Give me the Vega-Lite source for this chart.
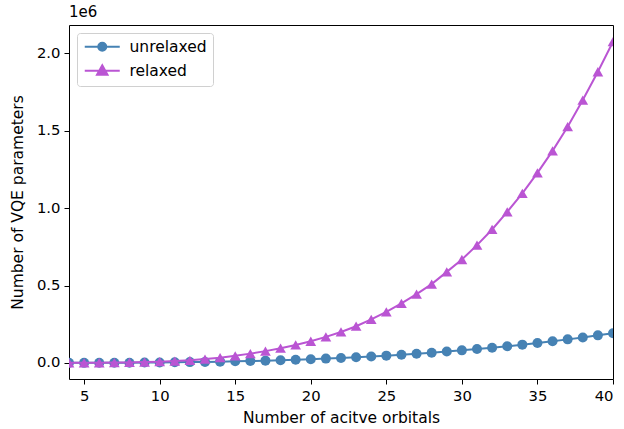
{
  "$schema": "https://vega.github.io/schema/vega-lite/v6.json",
  "width": 544,
  "height": 354,
  "autosize": {"type": "none"},
  "padding": {"left": 69, "top": 25, "right": 11, "bottom": 50},
  "background": "white",
  "title": {"text": "1e6", "anchor": "start", "frame": "group", "fontWeight": "normal", "fontSize": 15, "font": "DejaVu Sans", "offset": 5, "color": "black"},
  "config": {
    "font": "DejaVu Sans",
    "view": {"stroke": "black", "strokeWidth": 1},
    "axis": {"grid": false, "domain": false, "tickColor": "black", "tickSize": 5, "tickWidth": 1, "labelColor": "black", "labelFontSize": 14.8, "titleFontSize": 15.5, "titleFontWeight": "normal", "titleColor": "black", "labelPadding": 4, "labelFont": "DejaVu Sans", "titleFont": "DejaVu Sans"}
  },
  "data": {"values": [
    {"n":4,"series":"unrelaxed","value":190},{"n":5,"series":"unrelaxed","value":380},{"n":6,"series":"unrelaxed","value":650},{"n":7,"series":"unrelaxed","value":1030},{"n":8,"series":"unrelaxed","value":1540},{"n":9,"series":"unrelaxed","value":2190},{"n":10,"series":"unrelaxed","value":3000},{"n":11,"series":"unrelaxed","value":4000},{"n":12,"series":"unrelaxed","value":5200},{"n":13,"series":"unrelaxed","value":6600},{"n":14,"series":"unrelaxed","value":8200},{"n":15,"series":"unrelaxed","value":10100},{"n":16,"series":"unrelaxed","value":12300},{"n":17,"series":"unrelaxed","value":14700},{"n":18,"series":"unrelaxed","value":17500},{"n":19,"series":"unrelaxed","value":20600},{"n":20,"series":"unrelaxed","value":24000},{"n":21,"series":"unrelaxed","value":27800},{"n":22,"series":"unrelaxed","value":31900},{"n":23,"series":"unrelaxed","value":36500},{"n":24,"series":"unrelaxed","value":41500},{"n":25,"series":"unrelaxed","value":47000},{"n":26,"series":"unrelaxed","value":52700},{"n":27,"series":"unrelaxed","value":59000},{"n":28,"series":"unrelaxed","value":65800},{"n":29,"series":"unrelaxed","value":73200},{"n":30,"series":"unrelaxed","value":81000},{"n":31,"series":"unrelaxed","value":89400},{"n":32,"series":"unrelaxed","value":98300},{"n":33,"series":"unrelaxed","value":107800},{"n":34,"series":"unrelaxed","value":117900},{"n":35,"series":"unrelaxed","value":128600},{"n":36,"series":"unrelaxed","value":140000},{"n":37,"series":"unrelaxed","value":152000},{"n":38,"series":"unrelaxed","value":164600},{"n":39,"series":"unrelaxed","value":178000},{"n":40,"series":"unrelaxed","value":192000},
    {"n":4,"series":"relaxed","value":200},{"n":5,"series":"relaxed","value":500},{"n":6,"series":"relaxed","value":1100},{"n":7,"series":"relaxed","value":2000},{"n":8,"series":"relaxed","value":3400},{"n":9,"series":"relaxed","value":5300},{"n":10,"series":"relaxed","value":8000},{"n":11,"series":"relaxed","value":11500},{"n":12,"series":"relaxed","value":17000},{"n":13,"series":"relaxed","value":25000},{"n":14,"series":"relaxed","value":34000},{"n":15,"series":"relaxed","value":46000},{"n":16,"series":"relaxed","value":60000},{"n":17,"series":"relaxed","value":76000},{"n":18,"series":"relaxed","value":95000},{"n":19,"series":"relaxed","value":116000},{"n":20,"series":"relaxed","value":140000},{"n":21,"series":"relaxed","value":168000},{"n":22,"series":"relaxed","value":200000},{"n":23,"series":"relaxed","value":237000},{"n":24,"series":"relaxed","value":281000},{"n":25,"series":"relaxed","value":330000},{"n":26,"series":"relaxed","value":384000},{"n":27,"series":"relaxed","value":444000},{"n":28,"series":"relaxed","value":509000},{"n":29,"series":"relaxed","value":588000},{"n":30,"series":"relaxed","value":668000},{"n":31,"series":"relaxed","value":761000},{"n":32,"series":"relaxed","value":862000},{"n":33,"series":"relaxed","value":976000},{"n":34,"series":"relaxed","value":1095000},{"n":35,"series":"relaxed","value":1228000},{"n":36,"series":"relaxed","value":1370000},{"n":37,"series":"relaxed","value":1526000},{"n":38,"series":"relaxed","value":1698000},{"n":39,"series":"relaxed","value":1881000},{"n":40,"series":"relaxed","value":2075000}
  ]},
  "encoding": {
    "x": {"field": "n", "type": "quantitative", "title": "Number of acitve orbitals",
          "scale": {"domain": [4, 40], "nice": false, "zero": false},
          "axis": {"values": [5,10,15,20,25,30,35,40], "titlePadding": 8}},
    "y": {"field": "value", "type": "quantitative", "title": "Number of VQE parameters",
          "scale": {"domain": [-104000, 2183000], "nice": false, "zero": false},
          "axis": {"values": [0, 500000, 1000000, 1500000, 2000000], "labelExpr": "format(datum.value/1000000, '.1f')", "titlePadding": 11}},
    "color": {"field": "series", "type": "nominal",
              "scale": {"domain": ["unrelaxed", "relaxed"], "range": ["#4682b4", "#ba55d3"]},
              "legend": {"title": null, "orient": "top-left", "offset": 8, "padding": 6, "labelFontSize": 15.5, "labelColor": "black", "labelOffset": 31, "symbolSize": 100, "symbolStrokeWidth": 2, "rowPadding": 5, "strokeColor": "#d0d0d0", "fillColor": "white", "cornerRadius": 3,
                         "encode": {"symbols": {"update": {
                           "shape": {"signal": "datum.value === 'unrelaxed' ? 'M-1.2,0L5.8,0M3.1,0A0.8,0.8,0,1,1,1.5,0A0.8,0.8,0,1,1,3.1,0Z' : 'M-1.2,0L5.8,0M2.3,-1.1L3.35,0.8L1.25,0.8Z'"},
                           "fill": {"signal": "datum.value === 'unrelaxed' ? '#4682b4' : '#ba55d3'"},
                           "stroke": {"signal": "datum.value === 'unrelaxed' ? '#4682b4' : '#ba55d3'"},
                           "fillOpacity": {"value": 1},
                           "opacity": {"value": 1}
                         }}}}}
  },
  "layer": [
    {"transform": [{"filter": "datum.series === 'unrelaxed'"}], "mark": {"type": "line", "strokeWidth": 2, "clip": true}},
    {"transform": [{"filter": "datum.series === 'unrelaxed'"}], "mark": {"type": "point", "shape": "circle", "filled": true, "opacity": 1, "size": 100, "clip": true}},
    {"transform": [{"filter": "datum.series === 'relaxed'"}], "mark": {"type": "line", "strokeWidth": 2, "clip": true}},
    {"transform": [{"filter": "datum.series === 'relaxed'"}], "mark": {"type": "point", "shape": "triangle-up", "filled": true, "opacity": 1, "size": 115, "clip": true}}
  ]
}
